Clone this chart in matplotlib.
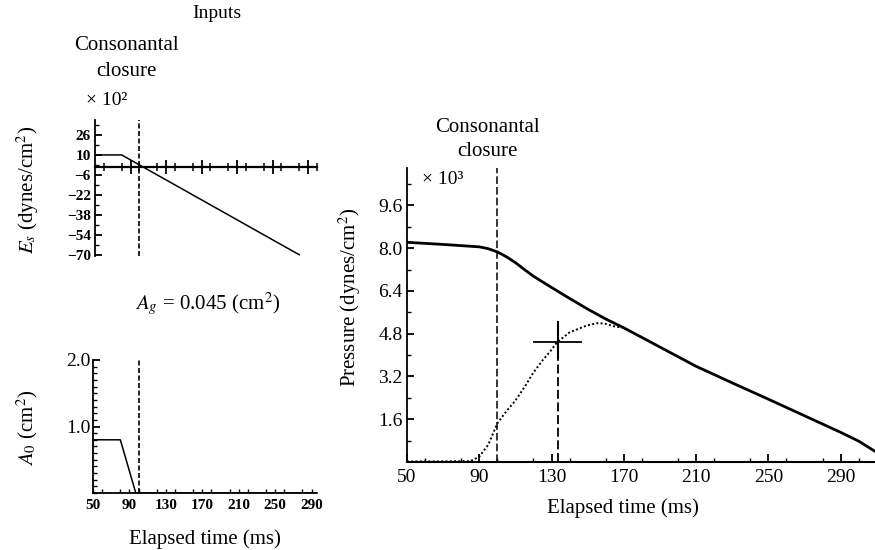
import matplotlib
matplotlib.use("Agg")
import matplotlib.pyplot as plt
from matplotlib.ticker import MultipleLocator, FixedLocator

plt.rcParams["font.family"] = ["Liberation Serif", "DejaVu Serif"]
plt.rcParams["mathtext.fontset"] = "stix"

# closure time (ms)
closure_t = 100

# input: E_s (x 10^2 dynes/cm^2)
es_t = [50, 80, 280]
es_v = [10, 10, -70]

# input: A_0 (cm^2)
a0_t = [50, 80, 97, 296]
a0_v = [0.8, 0.8, 0.0, 0.0]

# output: subglottal pressure (x 10^3 dynes/cm^2), solid
ps_t = [50, 70, 90, 95, 100, 105, 110, 115, 120, 130, 140, 150, 160, 170,
        190, 210, 230, 250, 270, 290, 300, 309]
ps_v = [8.22, 8.14, 8.05, 7.98, 7.86, 7.68, 7.46, 7.2, 6.95, 6.53, 6.12,
        5.72, 5.35, 5.02, 4.30, 3.58, 2.96, 2.35, 1.73, 1.11, 0.78, 0.4]

# output: oral pressure, dotted
po_t = [50, 85, 90, 95, 100, 105, 110, 115, 120, 125, 130, 133, 140, 147,
        150, 156, 160, 165, 170]
po_v = [0.02, 0.03, 0.2, 0.65, 1.45, 1.9, 2.3, 2.8, 3.35, 3.8, 4.2, 4.48,
        4.85, 5.04, 5.12, 5.2, 5.17, 5.07, 5.02]

# marked point on oral pressure curve
mark_t, mark_v = 133.5, 4.48
mark_x = [120.5, 146.3]
mark_y = [3.9, 5.22]

W, H = 875, 550


def ax_px(left, top, right, bottom):
    return [left / W, 1 - bottom / H, (right - left) / W, (bottom - top) / H]


def fig_text(x, y, s, **kw):
    fig.text(x / W, 1 - y / H, s, **kw)


fig = plt.figure(figsize=(8.75, 5.5), dpi=100)

# ---- top-left: E_s
ax1 = fig.add_axes(ax_px(95, 120, 317, 256))
ax1.plot(es_t, es_v, color="k", lw=1.1)
ax1.axvline(closure_t, color="k", lw=1.2, ls=(0, (3, 1.5)))
ax1.set_xlim(50, 300)
ax1.set_ylim(-71, 38)
for s in ("top", "right"):
    ax1.spines[s].set_visible(False)
ax1.spines["bottom"].set_position(("data", 0))
ax1.spines["bottom"].set_linewidth(1.6)
ax1.spines["left"].set_linewidth(1.3)
ax1.xaxis.set_major_locator(FixedLocator([90, 130, 170, 210, 250, 290]))
ax1.xaxis.set_minor_locator(MultipleLocator(20))
ax1.tick_params(axis="x", which="major", direction="inout", length=10,
                width=1.3, labelbottom=False)
ax1.tick_params(axis="x", which="minor", direction="inout", length=6, width=1.1)
ax1.yaxis.set_major_locator(FixedLocator([26, 10, -6, -22, -38, -54, -70]))
ax1.yaxis.set_minor_locator(FixedLocator([34, 18, 2, -14, -30, -46, -62]))
ax1.tick_params(axis="y", which="major", direction="in", length=5, width=1.3,
                labelsize=11, pad=3)
ax1.tick_params(axis="y", which="minor", direction="in", length=3, width=1)
for lab in ax1.get_yticklabels():
    lab.set_fontweight("bold")

# ---- bottom-left: A_0
ax2 = fig.add_axes(ax_px(93, 360, 317, 493))
ax2.plot(a0_t, a0_v, color="k", lw=1.1)
ax2.plot([closure_t, closure_t], [0, 2.0], color="k", lw=1.2, ls=(0, (3, 1.5)))
ax2.set_xlim(50, 296)
ax2.set_ylim(0, 2.0)
for s in ("top", "right"):
    ax2.spines[s].set_visible(False)
ax2.spines["left"].set_linewidth(1.3)
ax2.spines["bottom"].set_linewidth(1.3)
ax2.set_xticks([50, 90, 130, 170, 210, 250, 290])
ax2.xaxis.set_minor_locator(MultipleLocator(20))
ax2.set_yticks([1.0, 2.0])
ax2.set_yticklabels(["1.0", "2.0"])
ax2.yaxis.set_minor_locator(MultipleLocator(0.1))
ax2.tick_params(axis="x", which="both", direction="in", length=3, width=1,
                labelsize=11, pad=4)
ax2.tick_params(axis="y", which="major", direction="in", length=5, width=1.3,
                labelsize=14, pad=2)
ax2.tick_params(axis="y", which="minor", direction="in", length=3, width=1)
for lab in ax2.get_xticklabels():
    lab.set_fontweight("bold")

# ---- right: pressures
ax3 = fig.add_axes(ax_px(407, 168, 875, 462))
ax3.plot(ps_t, ps_v, color="k", lw=2.0)
ax3.plot(po_t, po_v, color="k", lw=1.4, ls=(0, (1, 1.2)))
ax3.plot([closure_t, closure_t], [0, 11], color="k", lw=1.1, ls=(0, (5, 2)))
ax3.plot([mark_t, mark_t], [0, mark_y[1]], color="k", lw=1.3, ls=(0, (5, 2)))
ax3.plot([mark_t, mark_t], mark_y, color="k", lw=1.5)
ax3.plot(mark_x, [mark_v, mark_v], color="k", lw=1.3)
ax3.set_xlim(50, 309)
ax3.set_ylim(0, 11)
for s in ("top", "right"):
    ax3.spines[s].set_visible(False)
ax3.spines["left"].set_linewidth(1.3)
ax3.spines["bottom"].set_linewidth(1.5)
ax3.set_xticks([50, 90, 130, 170, 210, 250, 290])
ax3.xaxis.set_minor_locator(MultipleLocator(20))
ax3.set_yticks([1.6, 3.2, 4.8, 6.4, 8.0, 9.6])
ax3.set_yticklabels(["1.6", "3.2", "4.8", "6.4", "8.0", "9.6"])
ax3.yaxis.set_minor_locator(FixedLocator([0.8, 2.4, 4.0, 5.6, 7.2, 8.8, 10.4]))
ax3.tick_params(axis="x", which="major", direction="in", length=6, width=1.3,
                labelsize=14, pad=5)
ax3.tick_params(axis="x", which="minor", direction="in", length=3, width=1)
ax3.tick_params(axis="y", which="major", direction="in", length=5, width=1.3,
                labelsize=14, pad=3)
ax3.tick_params(axis="y", which="minor", direction="in", length=3, width=1)

# ---- texts
fig_text(217, 13, "Inputs", ha="center", va="center", fontsize=14)
fig_text(126, 46, "Consonantal", ha="center", va="center", fontsize=15)
fig_text(126, 71, "closure", ha="center", va="center", fontsize=15)
fig_text(86, 100, "× 10²", ha="left", va="center", fontsize=14)
fig_text(28, 190, "$E_s$ (dynes/cm$^2$)", ha="center", va="center",
         rotation=90, fontsize=15)
fig_text(208, 304, "$A_g$ = 0.045 (cm$^2$)", ha="center", va="center",
         fontsize=15)
fig_text(27, 428, "$A_0$ (cm$^2$)", ha="center", va="center", rotation=90,
         fontsize=15)
fig_text(205, 539, "Elapsed time (ms)", ha="center", va="center", fontsize=15)
fig_text(487, 128, "Consonantal", ha="center", va="center", fontsize=15)
fig_text(487, 151, "closure", ha="center", va="center", fontsize=15)
fig_text(422, 180, "× 10³", ha="left", va="center", fontsize=14)
fig_text(350, 297, "Pressure (dynes/cm$^2$)", ha="center", va="center",
         rotation=90, fontsize=15)
fig_text(623, 508, "Elapsed time (ms)", ha="center", va="center", fontsize=15)

fig.savefig("out.png", dpi=100)
